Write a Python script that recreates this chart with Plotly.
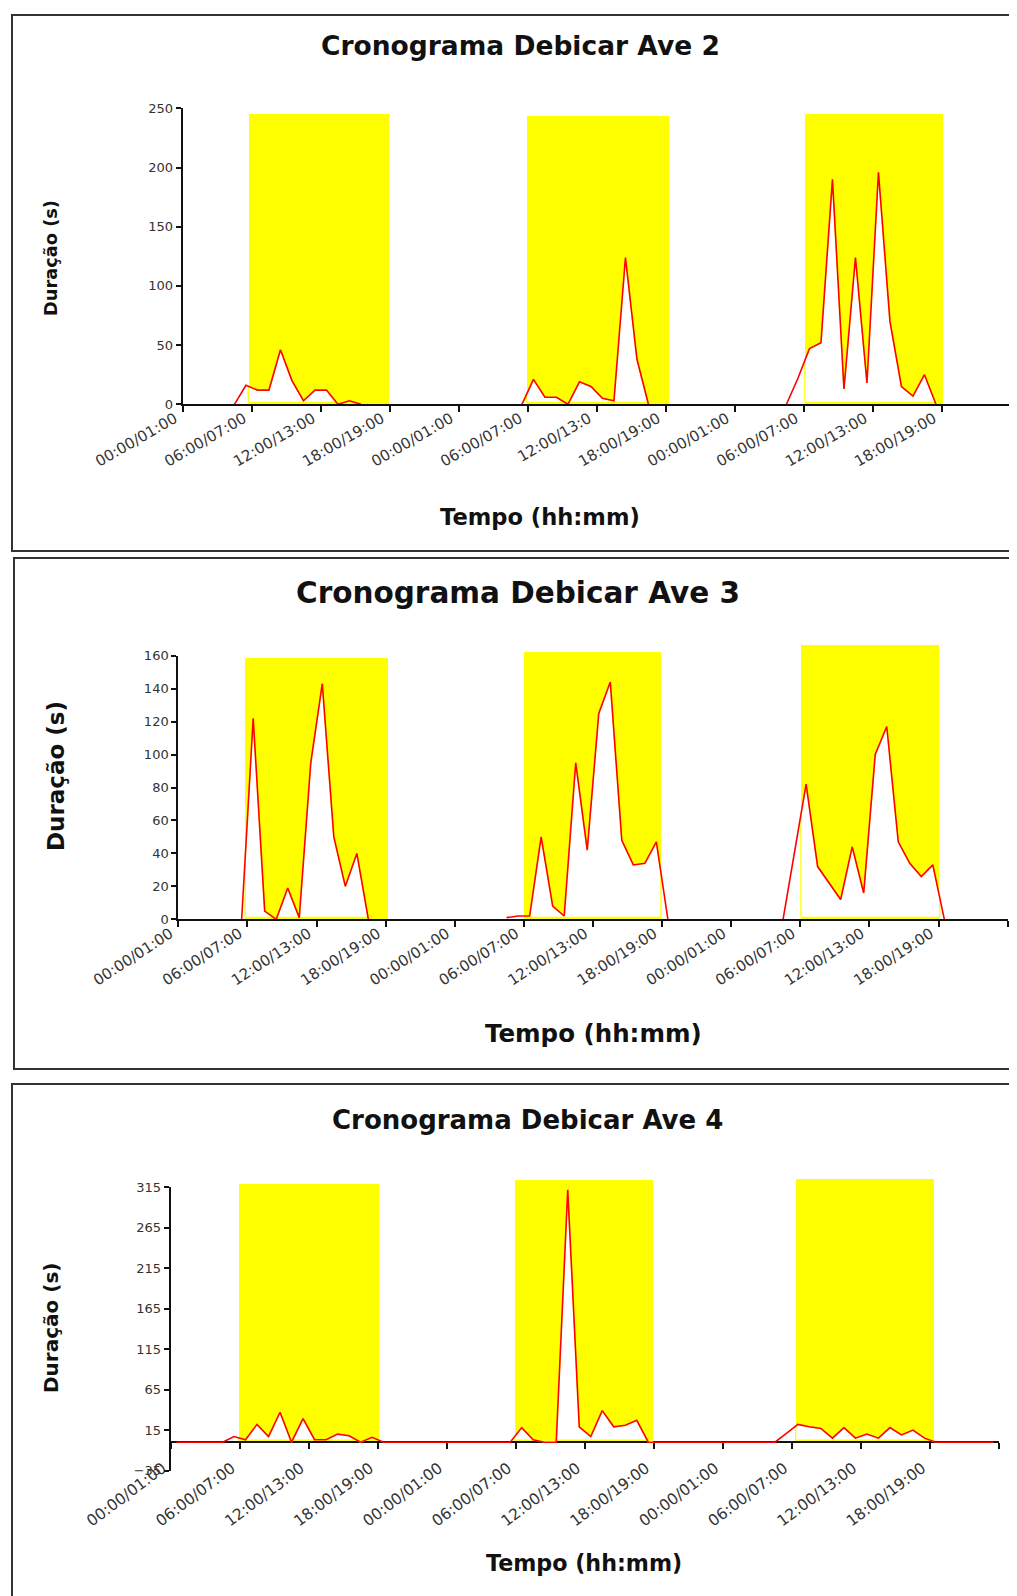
import numpy as np
import plotly.graph_objects as go

W, H = 1017, 1596
PAGE_MARGIN = 8               # default body margin of the written html page
FIG_W, FIG_H = W - PAGE_MARGIN, H - PAGE_MARGIN
N = None

# ---------------- data ----------------
HOUR_INDEX = list(range(72))            # hourly categories, plotted at hour + 0.5
TICK_HOURS = list(range(0, 73, 6))
DAY_LABELS = ["00:00/01:00", "06:00/07:00", "12:00/13:00", "18:00/19:00"]
TICKTEXT_AVE2 = ["00:00/01:00", "06:00/07:00", "12:00/13:00", "18:00/19:00",
                 "00:00/01:00", "06:00/07:00", "12:00/13:0", "18:00/19:00",
                 "00:00/01:00", "06:00/07:00", "12:00/13:00", "18:00/19:00", ""]
TICKTEXT_STD = DAY_LABELS * 3 + [""]

AVE2 = [N, N, N, N, 0, 16, 12, 12, 46, 20, 3, 12, 12, 0, 3, 0, N, N, N, N, N, N, N, N,
        N, N, N, N, N, 0, 21, 6, 6, 0, 19, 15, 5, 3, 124, 38, 0, N, N, N, N, N, N, N,
        N, N, N, N, 0, 22, 47, 52, 190, 13, 124, 18, 196, 70, 15, 7, 25, 0, N, N, N, N, N, N]

AVE3 = [N, N, N, N, N, 0, 122, 5, 0, 19, 1, 95, 143, 50, 20, 40, 0, N, N, N, N, N, N, N,
        N, N, N, N, 1, 2, 2, 50, 8, 2, 95, 42, 125, 144, 48, 33, 34, 47, 0, N, N, N, N, N,
        N, N, N, N, 0, 40, 82, 32, 22, 12, 44, 16, 100, 117, 47, 34, 26, 33, 0, N, N, N, N, N]

AVE4 = [0, 0, 0, 0, 0, 7, 3, 22, 7, 37, 0, 29, 3, 3, 10, 8, 0, 6, 0, 0, 0, 0, 0, 0,
        0, 0, 0, 0, 0, 0, 18, 3, 0, 0, 312, 19, 7, 39, 19, 21, 27, 0, 0, 0, 0, 0, 0, 0,
        0, 0, 0, 0, 0, 11, 22, 19, 17, 5, 18, 5, 10, 5, 18, 9, 15, 5, 0, 0, 0, 0, 0, 0]

# light periods (hours) and height of the yellow blocks
AVE2_ON, AVE2_OFF, AVE2_TOP = [5.7, 29.9, 54.1], [17.9, 42.3, 66.1], [245, 243.5, 245]
AVE3_ON, AVE3_OFF, AVE3_TOP = [5.8, 30.0, 54.05], [18.2, 41.9, 66.1], [158.5, 162.4, 166.5]
AVE4_ON, AVE4_OFF, AVE4_TOP = [5.9, 29.85, 54.3], [18.05, 41.9, 66.3], [318.7, 323.1, 325.2]

# ---------------- styling / layout (pixels in the 1017x1596 page) ----------------
FONT = "DejaVu Sans"
FLOOR_PX = 2.0
HEADROOM_PX = 40.0   # extra room above the plot for the yellow blocks

charts = [
    dict(title="Cronograma Debicar Ave 2", vals=AVE2, on=AVE2_ON, off=AVE2_OFF, top=AVE2_TOP,
         yrange=[0, 250], tick0=0, dtick=50, ticktext=TICKTEXT_AVE2,
         plot=(182.7, 1010.7, 108.3, 404.3), xaxis_at_zero=False,
         title_xy=(520, 46), title_size=26.5, ytitle_xy=(51, 258), ytitle_size=17.8,
         xtitle_xy=(540, 517), xtitle_size=22.6, tickangle=-30, standoff=-8, tickfont=15,
         frame=(12, 15, 1030, 551)),
    dict(title="Cronograma Debicar Ave 3", vals=AVE3, on=AVE3_ON, off=AVE3_OFF, top=AVE3_TOP,
         yrange=[0, 160], tick0=0, dtick=20, ticktext=TICKTEXT_STD,
         plot=(178.3, 1007.7, 655.7, 919.3), xaxis_at_zero=False,
         title_xy=(518, 593), title_size=29.5, ytitle_xy=(56, 776), ytitle_size=23,
         xtitle_xy=(593, 1033), xtitle_size=24.5, tickangle=-33, standoff=-8, tickfont=15,
         frame=(14, 558, 1030, 1069)),
    dict(title="Cronograma Debicar Ave 4", vals=AVE4, on=AVE4_ON, off=AVE4_OFF, top=AVE4_TOP,
         yrange=[-35, 315], tick0=-35, dtick=50, ticktext=TICKTEXT_STD,
         plot=(170.7, 999.3, 1187.3, 1470.5), xaxis_at_zero=True,
         title_xy=(527, 1120), title_size=26, ytitle_xy=(51, 1328), ytitle_size=20,
         xtitle_xy=(584, 1563), xtitle_size=22.2, tickangle=-37, standoff=4, tickfont=15.5,
         frame=(12, 1084, 1030, 1620)),
]


def px_x(px):
    return (px - PAGE_MARGIN) / FIG_W


def px_y(py):
    return 1 - (py - PAGE_MARGIN) / FIG_H


def value_at(vals, h):
    pos = h - 0.5
    i0 = int(np.floor(pos))
    i1 = i0 + 1
    if i0 < 0 or i1 >= len(vals) or vals[i0] is None or vals[i1] is None:
        return None
    t = pos - i0
    return vals[i0] * (1 - t) + vals[i1] * t


def white_region(vals, on, off, floor):
    pts = [(i + 0.5, v) for i, v in zip(HOUR_INDEX, vals) if v is not None and on < i + 0.5 < off]
    if not pts:
        return None, None
    xs, ys = [], []
    lo = value_at(vals, on)
    if lo is not None:
        xs += [on, on]
        ys += [floor, lo]
    else:
        xs += [pts[0][0]]
        ys += [floor]
    xs += [p[0] for p in pts]
    ys += [p[1] for p in pts]
    hi = value_at(vals, off)
    if hi is not None:
        xs += [off, off]
        ys += [hi, floor]
    else:
        xs += [pts[-1][0]]
        ys += [floor]
    xs.append(xs[0])
    ys.append(ys[0])
    return xs, ys


fig = go.Figure()
annotations = []
shapes = []
layout_axes = {}


def ax_names(n):
    return ("x" if n == 1 else f"x{n}", "y" if n == 1 else f"y{n}",
            "xaxis" if n == 1 else f"xaxis{n}", "yaxis" if n == 1 else f"yaxis{n}")


# --- pass 1: background subplots (1..3) holding the yellow light-period blocks
for k, c in enumerate(charts, start=1):
    xa, ya, xkey, ykey = ax_names(k)
    x0p, x1p, y0p, y1p = c["plot"]
    rmin, rmax = c["yrange"]
    top_px = y0p - HEADROOM_PX
    aux_max = rmin + (rmax - rmin) * (y1p - top_px) / (y1p - y0p)
    fig.add_trace(go.Bar(
        x=[(a + b) / 2 for a, b in zip(c["on"], c["off"])],
        y=c["top"],
        width=[b - a for a, b in zip(c["on"], c["off"])],
        marker=dict(color="#FFFF00", line=dict(width=0)),
        showlegend=False, hoverinfo="skip", xaxis=xa, yaxis=ya))
    layout_axes[xkey] = dict(domain=[px_x(x0p), px_x(x1p)], range=[0, 72], visible=False,
                             anchor=ya, fixedrange=True, automargin=False)
    layout_axes[ykey] = dict(domain=[px_y(y1p), px_y(top_px)], range=[rmin, aux_max],
                             visible=False, anchor=xa, fixedrange=True, automargin=False)

# --- pass 2: main subplots (4..6) with white areas, red line and visible axes
for j, c in enumerate(charts):
    k = j + 4
    xa, ya, xkey, ykey = ax_names(k)
    x0p, x1p, y0p, y1p = c["plot"]
    ydom = [px_y(y1p), px_y(y0p)]
    xdom = [px_x(x0p), px_x(x1p)]
    rmin, rmax = c["yrange"]
    floor = max(rmin, 0) + FLOOR_PX * (rmax - rmin) / (y1p - y0p)

    for a, b in zip(c["on"], c["off"]):
        xs, ys = white_region(c["vals"], a, b, floor)
        if xs is None:
            continue
        fig.add_trace(go.Scatter(
            x=xs, y=ys, mode="lines", fill="toself", fillcolor="#FFFFFF",
            line=dict(color="#FFFF00", width=1.3), showlegend=False,
            hoverinfo="skip", xaxis=xa, yaxis=ya))

    fig.add_trace(go.Scatter(
        x=[i + 0.5 for i in HOUR_INDEX], y=c["vals"], mode="lines",
        line=dict(color="#FF0000", width=1.6), connectgaps=False,
        showlegend=False, xaxis=xa, yaxis=ya))

    xaxis = dict(domain=xdom, range=[0, 72], showgrid=False, zeroline=False,
                 showline=True, linecolor="#111111", linewidth=2,
                 ticks="outside", ticklen=6, tickwidth=1.5, tickcolor="#111111",
                 tickmode="array", tickvals=TICK_HOURS, ticktext=c["ticktext"],
                 tickangle=c["tickangle"],
                 tickfont=dict(family=FONT, size=c["tickfont"], color="#333333"),
                 ticklabelstandoff=c["standoff"], ticklabelshift=-8,
                 fixedrange=True, automargin=False)
    if c["xaxis_at_zero"]:
        xaxis.update(anchor="free",
                     position=ydom[0] + (0 - rmin) / (rmax - rmin) * (ydom[1] - ydom[0]),
                     layer="below traces")
    else:
        xaxis.update(anchor=ya)

    yaxis = dict(domain=ydom, range=[rmin, rmax], anchor=xa, showgrid=False,
                 showline=True, linecolor="#111111", linewidth=2,
                 ticks="outside", ticklen=5, tickwidth=1.5, tickcolor="#111111",
                 tickmode="linear", tick0=c["tick0"], dtick=c["dtick"],
                 tickfont=dict(family=FONT, size=13, color="#333333"),
                 zeroline=c["xaxis_at_zero"], zerolinecolor="#FF0000", zerolinewidth=2,
                 fixedrange=True, automargin=False)
    layout_axes[xkey] = xaxis
    layout_axes[ykey] = yaxis

    tx, ty = c["title_xy"]
    annotations.append(dict(text=c["title"], x=px_x(tx), y=px_y(ty), xref="paper", yref="paper",
                            showarrow=False, xanchor="center", yanchor="middle",
                            font=dict(family=FONT, size=c["title_size"], color="#111111", weight="bold")))
    yx, yy = c["ytitle_xy"]
    annotations.append(dict(text="Duração (s)", x=px_x(yx), y=px_y(yy), xref="paper", yref="paper",
                            showarrow=False, xanchor="center", yanchor="middle", textangle=-90,
                            font=dict(family=FONT, size=c["ytitle_size"], color="#111111", weight="bold")))
    xx, xy = c["xtitle_xy"]
    annotations.append(dict(text="Tempo (hh:mm)", x=px_x(xx), y=px_y(xy), xref="paper", yref="paper",
                            showarrow=False, xanchor="center", yanchor="middle",
                            font=dict(family=FONT, size=c["xtitle_size"], color="#111111", weight="bold")))

    fx0, fy0, fx1, fy1 = c["frame"]
    shapes.append(dict(type="rect", xref="paper", yref="paper",
                       x0=px_x(fx0), x1=px_x(fx1), y0=px_y(fy1), y1=px_y(fy0),
                       line=dict(color="#333333", width=2), fillcolor="rgba(0,0,0,0)"))

fig.update_layout(
    width=FIG_W, height=FIG_H, autosize=False,
    margin=dict(l=0, r=0, t=0, b=0, pad=0, autoexpand=False),
    paper_bgcolor="#FFFFFF", plot_bgcolor="rgba(0,0,0,0)",
    showlegend=False, annotations=annotations, shapes=shapes,
    font=dict(family=FONT), bargap=0,
    **layout_axes,
)

fig.write_html("out.html")
